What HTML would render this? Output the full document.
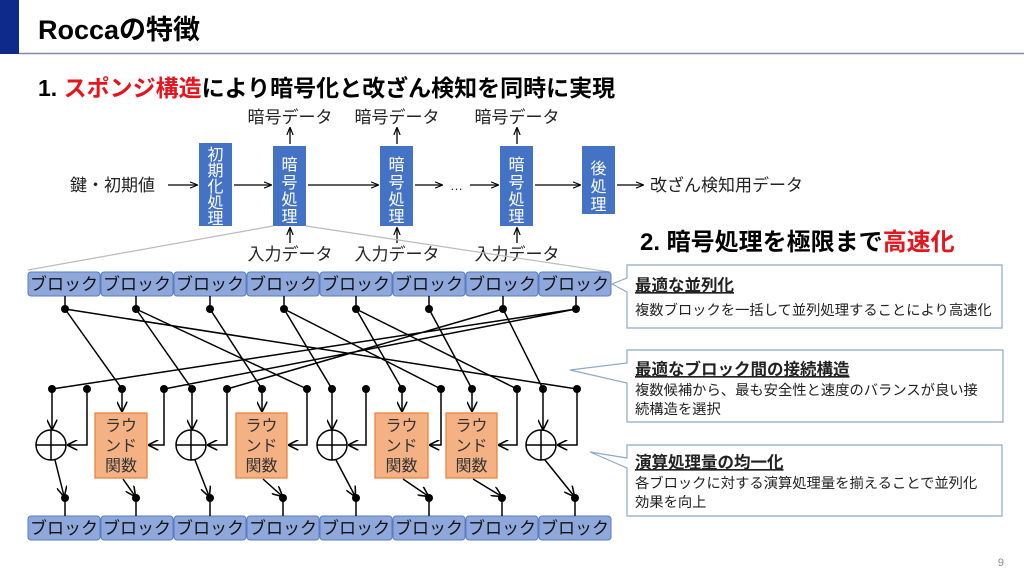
<!DOCTYPE html>
<html><head><meta charset="utf-8"><style>
body{margin:0;width:1024px;height:576px;background:#fff;overflow:hidden;font-family:"Liberation Sans","Noto Sans CJK JP",sans-serif;}
svg text{font-family:"Liberation Sans","Noto Sans CJK JP",sans-serif;}
</style></head><body>
<svg width="1024" height="576" viewBox="0 0 1024 576" xmlns="http://www.w3.org/2000/svg">
<defs>
<marker id="a" viewBox="0 0 10 10" refX="9" refY="5" markerWidth="7" markerHeight="7" orient="auto-start-reverse"><path d="M0,0 L10,5 L0,10" fill="none" stroke="#000" stroke-width="1.5"/></marker>
<marker id="s" viewBox="0 0 10 10" refX="9" refY="5" markerWidth="6" markerHeight="6" orient="auto"><path d="M0,1 L10,5 L0,9" fill="none" stroke="#000" stroke-width="1.5"/></marker>
</defs>
<rect x="0" y="0" width="19" height="54" fill="#0e2a8a"/>
<line x1="19" y1="53.5" x2="1024" y2="53.5" stroke="#7f8ba0" stroke-width="1.5"/>
<text x="38" y="39" font-size="27" font-weight="bold">Roccaの特徴</text>
<text x="38" y="96" font-size="23" font-weight="bold">1. <tspan fill="#e8141b">スポンジ構造</tspan>により暗号化と改ざん検知を同時に実現</text>
<text x="640" y="250" font-size="24" font-weight="bold">2. 暗号処理を極限まで<tspan fill="#e8141b">高速化</tspan></text>
<text x="1004" y="566" font-size="11" fill="#888" text-anchor="end">9</text>

<!-- top flow -->
<g font-size="17" fill="#222">
<text x="70" y="191">鍵・初期値</text>
<text x="290" y="123" text-anchor="middle">暗号データ</text>
<text x="397" y="123" text-anchor="middle">暗号データ</text>
<text x="517" y="123" text-anchor="middle">暗号データ</text>
<text x="290" y="260" text-anchor="middle">入力データ</text>
<text x="397" y="260" text-anchor="middle">入力データ</text>
<text x="517" y="260" text-anchor="middle">入力データ</text>
<text x="650" y="191">改ざん検知用データ</text>
<text x="450" y="190" font-size="13">…</text>
</g>
<g fill="#4472c4">
<rect x="199" y="143" width="33" height="83"/>
<rect x="273" y="146" width="33" height="80"/>
<rect x="380" y="146" width="33" height="80"/>
<rect x="500" y="146" width="33" height="80"/>
<rect x="582" y="146" width="33" height="68"/>
</g>
<g font-size="16" fill="#fff" text-anchor="middle">
<text x="215.5" y="160">初</text><text x="215.5" y="176">期</text><text x="215.5" y="192">化</text><text x="215.5" y="208">処</text><text x="215.5" y="224">理</text>
<text x="289.5" y="170">暗</text><text x="289.5" y="188">号</text><text x="289.5" y="205">処</text><text x="289.5" y="222">理</text>
<text x="396.5" y="170">暗</text><text x="396.5" y="188">号</text><text x="396.5" y="205">処</text><text x="396.5" y="222">理</text>
<text x="516.5" y="170">暗</text><text x="516.5" y="188">号</text><text x="516.5" y="205">処</text><text x="516.5" y="222">理</text>
<text x="598.5" y="174">後</text><text x="598.5" y="192">処</text><text x="598.5" y="210">理</text>
</g>
<g stroke="#000" stroke-width="1.3" marker-end="url(#s)">
<line x1="168" y1="185" x2="197" y2="185"/>
<line x1="234" y1="185" x2="271" y2="185"/>
<line x1="308" y1="185" x2="378" y2="185"/>
<line x1="415" y1="185" x2="442" y2="185"/>
<line x1="470" y1="185" x2="498" y2="185"/>
<line x1="535" y1="185" x2="580" y2="185"/>
<line x1="617" y1="185" x2="643" y2="185"/>
<line x1="290" y1="144" x2="290" y2="128"/>
<line x1="397" y1="144" x2="397" y2="128"/>
<line x1="517" y1="144" x2="517" y2="128"/>
<line x1="290" y1="243" x2="290" y2="228"/>
<line x1="397" y1="243" x2="397" y2="228"/>
<line x1="517" y1="243" x2="517" y2="228"/>
</g>
<line x1="273" y1="226" x2="28" y2="270" stroke="#bbb" stroke-width="1.2"/>
<line x1="306" y1="226" x2="610" y2="272" stroke="#bbb" stroke-width="1.2"/>

<!-- block rows -->
<g fill="#8fa8dc" stroke="#5a7bbf" stroke-width="1">
<rect x="28" y="272" width="72" height="24" rx="3"/><rect x="101" y="272" width="72" height="24" rx="3"/><rect x="174" y="272" width="72" height="24" rx="3"/><rect x="247" y="272" width="72" height="24" rx="3"/><rect x="320" y="272" width="72" height="24" rx="3"/><rect x="393" y="272" width="72" height="24" rx="3"/><rect x="466" y="272" width="72" height="24" rx="3"/><rect x="539" y="272" width="72" height="24" rx="3"/>
<rect x="28" y="516" width="72" height="24" rx="3"/><rect x="101" y="516" width="72" height="24" rx="3"/><rect x="174" y="516" width="72" height="24" rx="3"/><rect x="247" y="516" width="72" height="24" rx="3"/><rect x="320" y="516" width="72" height="24" rx="3"/><rect x="393" y="516" width="72" height="24" rx="3"/><rect x="466" y="516" width="72" height="24" rx="3"/><rect x="539" y="516" width="72" height="24" rx="3"/>
</g>
<g font-size="17" fill="#111" text-anchor="middle">
<text x="64" y="290">ブロック</text><text x="137" y="290">ブロック</text><text x="210" y="290">ブロック</text><text x="283" y="290">ブロック</text><text x="356" y="290">ブロック</text><text x="429" y="290">ブロック</text><text x="502" y="290">ブロック</text><text x="575" y="290">ブロック</text>
<text x="64" y="534">ブロック</text><text x="137" y="534">ブロック</text><text x="210" y="534">ブロック</text><text x="283" y="534">ブロック</text><text x="356" y="534">ブロック</text><text x="429" y="534">ブロック</text><text x="502" y="534">ブロック</text><text x="575" y="534">ブロック</text>
</g>

<!-- network -->
<g stroke="#000" stroke-width="1.5" fill="none">
<path d="M65,296V309M136,296V309M210,296V309M284,296V309M356,296V309M429,296V309M503,296V309M576,296V309"/>
<path d="M65,309L122,389M65,309L577,389M136,309L192,389M136,309L307,389M210,309L262,389M284,309L332,389M284,309L441,389M356,309L402,389M356,309L517,389M429,309L472,389M503,309L543,389M503,309L227,389M576,309L52,389M576,309L164,389"/>
<path d="M65,498V516M136,498V516M210,498V516M283,498V516M356,498V516M429,498V516M502,498V516M575,498V516"/>
<circle cx="51" cy="445" r="15"/><path d="M36,445H66M51,430V460"/>
<circle cx="191" cy="445" r="15"/><path d="M176,445H206M191,430V460"/>
<circle cx="332" cy="445" r="15"/><path d="M317,445H347M332,430V460"/>
<circle cx="541" cy="445" r="15"/><path d="M526,445H556M541,430V460"/>
</g>
<g fill="#f4b183" stroke="#ed7d31" stroke-width="1.2">
<rect x="95" y="413" width="52" height="65"/><rect x="236" y="413" width="51" height="65"/><rect x="375" y="413" width="53" height="65"/><rect x="446" y="413" width="51" height="65"/>
</g>
<g font-size="16" fill="#333" text-anchor="middle">
<text x="121" y="431">ラウ</text><text x="121" y="451">ンド</text><text x="121" y="471">関数</text>
<text x="261.5" y="431">ラウ</text><text x="261.5" y="451">ンド</text><text x="261.5" y="471">関数</text>
<text x="401.5" y="431">ラウ</text><text x="401.5" y="451">ンド</text><text x="401.5" y="471">関数</text>
<text x="471.5" y="431">ラウ</text><text x="471.5" y="451">ンド</text><text x="471.5" y="471">関数</text>
</g>
<g stroke="#000" stroke-width="1.5" fill="none" marker-end="url(#a)">
<path d="M52,389V429"/><path d="M192,389V429"/><path d="M332,389V429"/><path d="M543,389V429"/>
<path d="M122,389V411"/><path d="M262,389V411"/><path d="M402,389V411"/><path d="M472,389V411"/>
<path d="M87,389V445H68"/><path d="M227,389V445H208"/><path d="M366,389V445H349"/><path d="M577,389V445H558"/>
<path d="M164,389V445H149"/><path d="M307,389V445H289"/><path d="M441,389V445H430"/><path d="M517,389V445H499"/>
<path d="M55,460L64,496"/><path d="M195,460L209,496"/><path d="M336,460L355,496"/><path d="M545,460L574,496"/>
<path d="M123,479L135,496"/><path d="M263,479L282,496"/><path d="M403,479L428,496"/><path d="M473,479L501,496"/>
</g>
<g fill="#000">
<circle cx="65" cy="309" r="4"/><circle cx="136" cy="309" r="4"/><circle cx="210" cy="309" r="4"/><circle cx="284" cy="309" r="4"/><circle cx="356" cy="309" r="4"/><circle cx="429" cy="309" r="4"/><circle cx="503" cy="309" r="4"/><circle cx="576" cy="309" r="4"/>
<circle cx="52" cy="389" r="4"/><circle cx="87" cy="389" r="4"/><circle cx="122" cy="389" r="4"/><circle cx="164" cy="389" r="4"/><circle cx="192" cy="389" r="4"/><circle cx="227" cy="389" r="4"/><circle cx="262" cy="389" r="4"/><circle cx="307" cy="389" r="4"/><circle cx="332" cy="389" r="4"/><circle cx="366" cy="389" r="4"/><circle cx="402" cy="389" r="4"/><circle cx="441" cy="389" r="4"/><circle cx="472" cy="389" r="4"/><circle cx="517" cy="389" r="4"/><circle cx="543" cy="389" r="4"/><circle cx="577" cy="389" r="4"/>
<circle cx="65" cy="498" r="4"/><circle cx="136" cy="498" r="4"/><circle cx="210" cy="498" r="4"/><circle cx="283" cy="498" r="4"/><circle cx="356" cy="498" r="4"/><circle cx="429" cy="498" r="4"/><circle cx="502" cy="498" r="4"/><circle cx="575" cy="498" r="4"/>
</g>

<!-- callouts -->
<g fill="#fff" stroke="#8ea9c8" stroke-width="1.2">
<path d="M627,265H1002V328H627V292L612,284L627,278Z"/>
<path d="M627,350H1003V422H627V383L570,370L627,363Z"/>
<path d="M627,445H1002V516H627V468L590,452L627,458Z"/>
</g>
<g font-size="14.3" fill="#222">
<text x="635" y="291" font-size="16.5" font-weight="bold" text-decoration="underline">最適な並列化</text>
<text x="635" y="315">複数ブロックを一括して並列処理することにより高速化</text>
<text x="635" y="375" font-size="16.5" font-weight="bold" text-decoration="underline">最適なブロック間の接続構造</text>
<text x="635" y="395">複数候補から、最も安全性と速度のバランスが良い接</text>
<text x="635" y="414">続構造を選択</text>
<text x="635" y="468" font-size="16.5" font-weight="bold" text-decoration="underline">演算処理量の均一化</text>
<text x="635" y="488">各ブロックに対する演算処理量を揃えることで並列化</text>
<text x="635" y="507">効果を向上</text>
</g>
</svg>
</body></html>
